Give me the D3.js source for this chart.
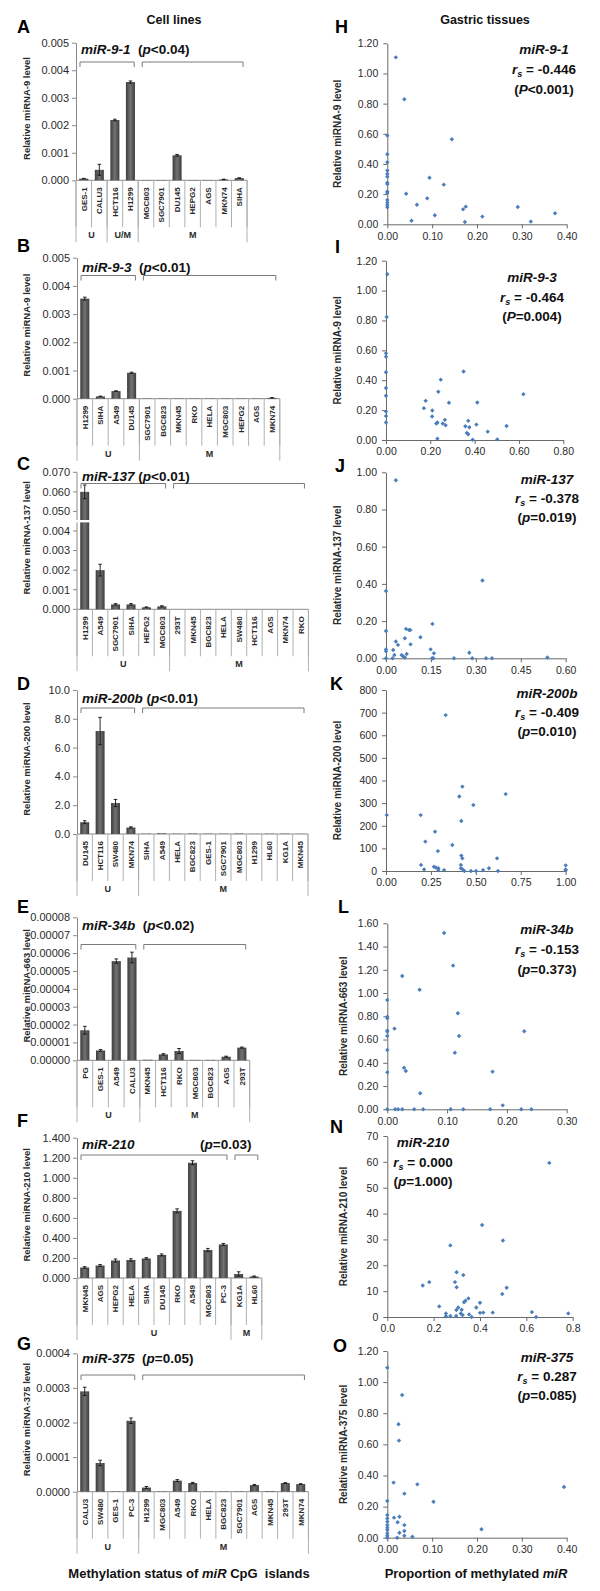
<!DOCTYPE html>
<html><head><meta charset="utf-8">
<script src="https://cdn.jsdelivr.net/npm/d3@7"></script>
<style>body{margin:0;background:#fff}svg{display:block}text{font-family:Arial,"Liberation Sans",sans-serif}</style>
</head><body><svg id="c" width="600" height="1591"></svg>
<script>
// ---------------- DATA: cell lines (bar panels) ----------------
const catsA = ["GES-1","CALU3","HCT116","H1299","MGC803","SGC7901","DU145","HEPG2","AGS","MKN74","SIHA"];
const valsA = [0.00006,0.00038,0.00219,0.00357,0.00001,0.00001,0.00091,0.00001,0.00001,0.00003,0.00008];
const errsA = [0.00001,0.0002,0.00003,0.00004,0,0,0.00003,0,0,0.00001,0.00001];
const groupsA = [["U",2],["U/M",2],["M",7]];
const bracketsA = [[0,3],[4,10]];
const ticksA = [0,0.001,0.002,0.003,0.004,0.005];
const titleA = [["miR-9-1",1],["  (",0],["p",1],["<0.04)",0]];

const catsB = ["H1299","SIHA","A549","DU145","SGC7901","BGC823","MKN45","RKO","HELA","MGC803","HEPG2","AGS","MKN74"];
const valsB = [0.00355,0.00008,0.00027,0.00092,0.00001,0.00001,0.00001,0.00001,0.00001,0.00001,0.00001,0.00001,0.00003];
const errsB = [0.00005,0.00001,0.00001,0.00002,0,0,0,0,0,0,0,0,0.000005];
const groupsB = [["U",4],["M",9]];
const bracketsB = [[0,3],[4,12]];
const ticksB = [0,0.001,0.002,0.003,0.004,0.005];
const titleB = [["miR-9-3",1],["  (",0],["p",1],["<0.01)",0]];

const catsC = ["H1299","A549","SGC7901","SIHA","HEPG2","MGC803","293T","MKN45","BGC823","HELA","SW480","HCT116","AGS","MKN74","RKO"];
const valsC = [0.060,0.0020,0.00025,0.00025,0.0001,0.00015,0,0,0,0,0,0,0,0,0];
const errsC = [0.0035,0.0003,0.00004,0.00004,0.00002,0.00003,0,0,0,0,0,0,0,0,0];
const groupsC = [["U",6],["M",9]];
const bracketsC = [[0,5],[6,14]];
const ticksC = [0,0.001,0.002,0.003,0.004,0.050,0.060,0.070];
const titleC = [["miR-137",1],[" (",0],["p",1],["<0.01)",0]];

const catsD = ["DU145","HCT116","SW480","MKN74","SIHA","A549","HELA","BGC823","GES-1","SGC7901","MGC803","H1299","HL60","KG1A","MKN45"];
const valsD = [0.82,7.15,2.15,0.45,0.02,0.05,0.02,0.03,0.02,0.02,0.03,0.01,0.02,0.02,0.01];
const errsD = [0.1,0.95,0.25,0.05,0,0,0,0,0,0,0,0,0,0,0];
const groupsD = [["U",4],["M",11]];
const bracketsD = [[0,3],[4,14]];
const ticksD = [0,2,4,6,8,10];
const titleD = [["miR-200b",1],[" (",0],["p",1],["<0.01)",0]];

const catsE = ["PG","GES-1","A549","CALU3","MKN45","HCT116","RKO","MGC803","BGC823","AGS","293T"];
const valsE = [0.0000168,0.0000055,0.0000555,0.0000575,0.0000003,0.0000033,0.0000052,0.0000002,0.0000002,0.000002,0.0000071];
const errsE = [0.0000022,0.0000005,0.0000012,0.000003,0,0.0000004,0.0000014,0,0,0.0000003,0.0000003];
const groupsE = [["U",4],["M",7]];
const bracketsE = [[0,3],[4,10]];
const ticksE = [0,0.00001,0.00002,0.00003,0.00004,0.00005,0.00006,0.00007,0.00008];
const titleE = [["miR-34b",1],["  (",0],["p",1],["<0.02)",0]];

const catsF = ["MKN45","AGS","HEPG2","HELA","SIHA","DU145","RKO","A549","MGC803","PC-3","KG1A","HL60"];
const valsF = [0.105,0.125,0.175,0.18,0.195,0.23,0.67,1.15,0.28,0.335,0.04,0.015];
const errsF = [0.008,0.01,0.015,0.012,0.008,0.01,0.02,0.02,0.015,0.01,0.022,0.005];
const groupsF = [["U",10],["M",2]];
const bracketsF = [[0,9],[10,11]];
const ticksF = [0,0.2,0.4,0.6,0.8,1.0,1.2,1.4];
const titleF = [["miR-210",1]];
const titleF2 = [["(",0],["p",1],["=0.03)",0]];

const catsG = ["CALU3","SW480","GES-1","PC-3","H1299","MGC803","A549","RKO","HELA","BGC823","SGC7901","AGS","MKN45","293T","MKN74"];
const valsG = [0.00029,0.000083,0.000001,0.000205,0.000012,0.000001,0.000032,0.000025,0.000001,0.000001,0.000001,0.000019,0.000002,0.000025,0.000022];
const errsG = [0.000012,0.000008,0,0.000008,0.000003,0,0.000003,0.000002,0,0,0,0.000002,0,0.000001,0.000001];
const groupsG = [["U",4],["M",11]];
const bracketsG = [[0,3],[4,14]];
const ticksG = [0,0.0001,0.0002,0.0003,0.0004];
const titleG = [["miR-375",1],["  (",0],["p",1],["=0.05)",0]];

// ---------------- DATA: gastric tissues (scatter panels) ----------------
const xH = [0.019,0.038,0,0,0,0,0,0,0,0,0,0,0,0,0,0,0.144,0.094,0.126,0.042,0.089,0.066,0.054,0.106,0.169,0.175,0.173,0.212,0.291,0.320,0.374];
const yH = [1.107,0.829,0.588,0.464,0.411,0.356,0.334,0.316,0.276,0.267,0.217,0.208,0.161,0.144,0.128,0.113,0.564,0.309,0.263,0.203,0.172,0.130,0.024,0.060,0.099,0.117,0.015,0.051,0.115,0.018,0.073];
const xI = [0.006,0.003,0,0,0,0,0,0,0,0,0.350,0.247,0.179,0.171,0.209,0.208,0.236,0.284,0.227,0.232,0.256,0.266,0.269,0.412,0.371,0.358,0.376,0.408,0.365,0.371,0.459,0.544,0.620,0.232,0.391,0.502];
const yI = [1.11,0.823,0.58,0.558,0.453,0.348,0.296,0.19,0.16,0.117,0.458,0.404,0.262,0.213,0.197,0.157,0.323,0.249,0.11,0.117,0.11,0.135,0.099,0.251,0.128,0.092,0.085,0.103,0.047,0.038,0.056,0.094,0.307,0.009,0.002,0.004];
const xJ = [0.033,0,0.322,0,0.155,0.067,0.077,0.081,0.115,0.063,0.033,0.040,0.082,0,0,0.024,0.149,0.160,0.278,0.028,0.052,0.058,0.069,0.063,0,0.154,0.158,0.227,0.288,0.334,0.354,0.539,0.022];
const yJ = [0.957,0.362,0.418,0.147,0.185,0.158,0.152,0.152,0.113,0.108,0.09,0.072,0.075,0.048,0.038,0.045,0.048,0.027,0.030,0.018,0.018,0.009,0.023,0.004,0,0,0,0,0,0,0,0.004,0];
const xK = [0.332,0.425,0.408,0.666,0.486,0.419,0.004,0.193,0.273,0.219,0.369,0.289,0.419,0.425,0.618,0.195,0.212,0.267,0.278,0.291,0.323,0.417,0.417,0.427,0.436,0.473,0.501,0.540,0.573,0.623,1,1,1,0.291];
const yK = [689,373,329,340,292,221,247,247,174,130,115,88,68,56,56,27,7,19,15,12,4,27,12,7,0,0,0,4,12,0,25,7,3,4];
const xL = [0.095,0.110,0.025,0.054,0,0,0,0.118,0.012,0,0,0,0.120,0.229,0,0.113,0,0.028,0.031,0.176,0.055,0.193,0,0.013,0.018,0.025,0.045,0.060,0.106,0.127,0.172,0.224,0.241];
const yL = [1.517,1.236,1.147,1.029,0.940,0.797,0.783,0.826,0.694,0.677,0.668,0.631,0.631,0.671,0.510,0.487,0.318,0.358,0.330,0.324,0.138,0.034,0,0,0,0,0,0,0,0,0,0,0];
const xN = [0.699,0.153,0.181,0.272,0.299,0.292,0.299,0.328,0.409,0.499,0.515,0.496,0.224,0.350,0.337,0.331,0.400,0.384,0.298,0.321,0.306,0.253,0.253,0.272,0.297,0.317,0.325,0.353,0.364,0.400,0.414,0.455,0.624,0.642,0.781];
const yN = [59.6,12.2,13.5,27.7,17.3,13.5,11.5,16.2,35.6,29.6,11.3,8.9,4.1,7.2,6.3,5.7,5.5,3.7,2.7,2.8,3.7,1.4,0.3,0.4,0.4,1.4,0.8,1.0,0,1.6,1.7,1.7,1.9,0,1.4];
const xO = [0,0.033,0.025,0.026,0.014,0.067,0.038,0.103,0.394,0,0,0,0,0,0,0,0,0,0,0.015,0.027,0.023,0.038,0.027,0.038,0.038,0.056,0.022,0.210];
const yO = [1.093,0.917,0.729,0.624,0.354,0.343,0.283,0.231,0.326,0.236,0.146,0.124,0.103,0.081,0.064,0.049,0.028,0.013,0,0.129,0.135,0.099,0.081,0.032,0.043,0.013,0.006,0,0.054];

// ---------------- DRAWING ----------------
const svg = d3.select("#c");
svg.append("rect").attr("width",600).attr("height",1591).attr("fill","#fff");
const defs = svg.append("defs");
const gr = defs.append("linearGradient").attr("id","barg").attr("x1",0).attr("x2",1).attr("y1",0).attr("y2",0);
gr.append("stop").attr("offset",0).attr("stop-color","#3c3c3c");
gr.append("stop").attr("offset",0.5).attr("stop-color","#737373");
gr.append("stop").attr("offset",1).attr("stop-color","#3c3c3c");

const AX = "#8a8a8a", TXT = "#2a2a2a";

function rich(sel, parts){
  parts.forEach(([t,it]) => sel.append("tspan").attr("font-style", it ? "italic" : "normal").text(t));
}

function drawBar(p){
  const n = p.cats.length;
  const xEnd = p.x0 + n*p.step;
  const x = d3.scaleBand().domain(d3.range(n)).range([p.x0, xEnd]).paddingInner(0.42).paddingOuter(0.21);
  let yf;
  const g = svg.append("g");
  if (p.broken){
    const lo = d3.scaleLinear().domain([0,0.0045]).range([p.yBot, p.yBreak]);
    const hi = d3.scaleLinear().domain([0.045,0.07]).range([p.yBreak, p.yTop]);
    yf = v => v <= 0.0045 ? lo(v) : hi(v);
    g.append("line").attr("x1",p.x0).attr("x2",p.x0).attr("y1",p.yBot).attr("y2",p.yTop).attr("stroke",AX);
    p.ticks.forEach(t => {
      g.append("line").attr("x1",p.x0-4).attr("x2",p.x0).attr("y1",yf(t)).attr("y2",yf(t)).attr("stroke",AX);
      g.append("text").attr("x",p.x0-7).attr("y",yf(t)).attr("dy","0.35em").attr("text-anchor","end")
        .attr("font-size","11px").attr("fill",TXT).text(d3.format(p.fmt)(t));
    });
  } else {
    const y = d3.scaleLinear().domain([p.ticks[0], p.ticks[p.ticks.length-1]]).range([p.yBot, p.yTop]);
    yf = y;
    const ax = g.append("g").attr("transform",`translate(${p.x0},0)`)
      .call(d3.axisLeft(y).tickValues(p.ticks).tickFormat(d3.format(p.fmt)).tickSize(4).tickSizeOuter(0).tickPadding(3));
    ax.selectAll("path,line").attr("stroke",AX);
    ax.selectAll("text").attr("font-size","11px").attr("fill",TXT).attr("font-family","Arial, 'Liberation Sans', sans-serif");
  }
  g.append("line").attr("x1",p.x0).attr("x2",xEnd).attr("y1",p.yBot).attr("y2",p.yBot).attr("stroke",AX);
  g.selectAll("rect.bar").data(p.vals).enter().append("rect")
    .attr("x",(d,i)=>x(i)).attr("width",x.bandwidth())
    .attr("y",d=>yf(d)).attr("height",d=>p.yBot-yf(d)).attr("fill","url(#barg)");
  p.vals.forEach((v,i) => {
    const e = p.errs[i]; if (!e) return;
    const cx = x(i)+x.bandwidth()/2;
    const y1 = yf(Math.max(0,v-e)), y2 = yf(v+e);
    g.append("line").attr("x1",cx).attr("x2",cx).attr("y1",y1).attr("y2",y2).attr("stroke","#111").attr("stroke-width",0.9);
    [y1,y2].forEach(yy => g.append("line").attr("x1",cx-1.8).attr("x2",cx+1.8).attr("y1",yy).attr("y2",yy).attr("stroke","#111").attr("stroke-width",0.9));
  });
  if (p.broken){
    g.append("rect").attr("x",p.x0-6).attr("y",p.yBreak-1.2).attr("width",x(0)+x.bandwidth()-p.x0+9).attr("height",2.4).attr("fill","#fff");
  }
  for (let i=0;i<=n;i++){
    g.append("line").attr("x1",p.x0+i*p.step).attr("x2",p.x0+i*p.step).attr("y1",p.yBot).attr("y2",p.yBot+47).attr("stroke","#a8a8a8").attr("stroke-width",0.9);
  }
  p.cats.forEach((c,i) => {
    const cx = p.x0+(i+0.5)*p.step;
    g.append("text").attr("transform",`translate(${cx},${p.yBot+7}) rotate(-90)`)
      .attr("text-anchor","end").attr("dy","0.35em").attr("font-size","8px").attr("font-weight","bold").attr("fill",TXT).text(c);
  });
  let s = 0;
  const bounds = [0];
  p.groups.forEach(([lab,k]) => {
    const cx = p.x0+(s+k/2)*p.step;
    g.append("text").attr("x",cx).attr("y",p.yBot+58).attr("text-anchor","middle").attr("font-size","9px").attr("font-weight","bold").attr("fill",TXT).text(lab);
    s += k; bounds.push(s);
  });
  bounds.forEach(b => g.append("line").attr("x1",p.x0+b*p.step).attr("x2",p.x0+b*p.step).attr("y1",p.yBot).attr("y2",p.yBot+62).attr("stroke","#a8a8a8").attr("stroke-width",0.9));
  p.brackets.forEach(([a,b]) => {
    const bx0 = p.x0+a*p.step+4, bx1 = p.x0+(b+1)*p.step-4;
    g.append("path").attr("d",`M${bx0},${p.bY+5}V${p.bY}H${bx1}V${p.bY+5}`).attr("fill","none").attr("stroke","#7a7a7a").attr("stroke-width",1);
  });
  const t = g.append("text").attr("x",p.x0+5).attr("y",p.tY).attr("font-size","13.5px").attr("font-weight","bold").attr("fill","#111").style("white-space","pre");
  rich(t, p.title);
  if (p.title2){
    const t2 = g.append("text").attr("x",p.t2x).attr("y",p.tY).attr("font-size","13.5px").attr("font-weight","bold").attr("fill","#111");
    rich(t2, p.title2);
  }
  g.append("text").attr("transform",`translate(27,${(p.yTop+p.yBot)/2-3}) rotate(-90)`).attr("text-anchor","middle").attr("dy","0.35em")
    .attr("font-size","9.5px").attr("font-weight","bold").attr("fill",TXT).text(p.yTitle);
  g.append("text").attr("x",17).attr("y",p.lY).attr("font-size","18px").attr("font-weight","bold").attr("fill","#000").text(p.letter);
}

function drawScatter(p){
  const x = d3.scaleLinear().domain([p.xTicks[0], p.xTicks[p.xTicks.length-1]]).range([p.x0,p.x1]);
  const y = d3.scaleLinear().domain([p.yTicks[0], p.yTicks[p.yTicks.length-1]]).range([p.yBot,p.yTop]);
  const g = svg.append("g");
  const ax = g.append("g").attr("transform",`translate(0,${p.yBot})`)
    .call(d3.axisBottom(x).tickValues(p.xTicks).tickFormat(d3.format(p.fx)).tickSize(4).tickSizeOuter(0).tickPadding(4));
  const ay = g.append("g").attr("transform",`translate(${p.x0},0)`)
    .call(d3.axisLeft(y).tickValues(p.yTicks).tickFormat(d3.format(p.fy)).tickSize(4).tickSizeOuter(0).tickPadding(5));
  [ax,ay].forEach(a => {
    a.selectAll("path,line").attr("stroke","#6a6a6a");
    a.selectAll("text").attr("font-size","10.5px").attr("fill",TXT).attr("font-family","Arial, 'Liberation Sans', sans-serif");
  });
  g.selectAll("path.pt").data(p.xs).enter().append("path")
    .attr("transform",(d,i)=>`translate(${x(d)},${y(p.ys[i])})`).attr("d","M0,-2.2L2.2,0L0,2.2L-2.2,0Z").attr("fill","#4a7dbb");
  g.append("text").attr("transform",`translate(${p.yTx},${(p.yTop+p.yBot)/2}) rotate(-90)`).attr("text-anchor","middle").attr("dy","0.35em")
    .attr("font-size","10px").attr("font-weight","bold").attr("fill",TXT).text(p.yTitle);
  g.append("text").attr("x",p.lX).attr("y",p.lY).attr("font-size","18px").attr("font-weight","bold").attr("fill","#000").text(p.letter);
  const fs = "13.5px";
  const l1 = g.append("text").attr("x",p.ax).attr("y",p.ay[0]).attr("text-anchor","middle").attr("font-size",fs).attr("font-weight","bold").attr("fill","#111");
  rich(l1,[[p.name,1]]);
  const l2 = g.append("text").attr("x",p.ax).attr("y",p.ay[1]).attr("text-anchor","middle").attr("font-size",fs).attr("font-weight","bold").attr("fill","#111");
  l2.append("tspan").attr("font-style","italic").text("r");
  l2.append("tspan").attr("font-style","italic").attr("font-size","9px").attr("dy",3).text("s");
  l2.append("tspan").attr("dy",-3).text(" = " + p.rs);
  const l3 = g.append("text").attr("x",p.ax).attr("y",p.ay[2]).attr("text-anchor","middle").attr("font-size",fs).attr("font-weight","bold").attr("fill","#111");
  rich(l3,[["(",0],[p.pl,1],[p.pv+")",0]]);
}

svg.append("text").attr("x",174).attr("y",24).attr("text-anchor","middle").attr("font-size","12.5px").attr("font-weight","bold").attr("fill","#111").text("Cell lines");
svg.append("text").attr("x",485).attr("y",24).attr("text-anchor","middle").attr("font-size","12.5px").attr("font-weight","bold").attr("fill","#111").text("Gastric tissues");

drawBar({letter:"A",cats:catsA,vals:valsA,errs:errsA,groups:groupsA,brackets:bracketsA,ticks:ticksA,fmt:".3f",title:titleA,
  yTitle:"Relative miRNA-9 level",x0:76,step:15.55,yTop:42.7,yBot:180.3,tY:53.5,bY:62,lY:33});
drawBar({letter:"B",cats:catsB,vals:valsB,errs:errsB,groups:groupsB,brackets:bracketsB,ticks:ticksB,fmt:".3f",title:titleB,
  yTitle:"Relative miRNA-9 level",x0:77,step:15.6,yTop:257.7,yBot:398.7,tY:271.5,bY:275.5,lY:252});
drawBar({letter:"C",cats:catsC,vals:valsC,errs:errsC,groups:groupsC,brackets:bracketsC,ticks:ticksC,fmt:".3f",title:titleC,broken:true,yBreak:521.2,
  yTitle:"Relative miRNA-137 level",x0:77,step:15.43,yTop:472.3,yBot:609.3,tY:480.5,bY:483.5,lY:470});
drawBar({letter:"D",cats:catsD,vals:valsD,errs:errsD,groups:groupsD,brackets:bracketsD,ticks:ticksD,fmt:".1f",title:titleD,
  yTitle:"Relative miRNA-200 level",x0:77,step:15.4,yTop:690,yBot:834,tY:703,bY:708,lY:690});
drawBar({letter:"E",cats:catsE,vals:valsE,errs:errsE,groups:groupsE,brackets:bracketsE,ticks:ticksE,fmt:".5f",title:titleE,
  yTitle:"Relative miRNA-663 level",x0:77,step:15.7,yTop:917.3,yBot:1060.3,tY:930,bY:944.5,lY:913});
drawBar({letter:"F",cats:catsF,vals:valsF,errs:errsF,groups:groupsF,brackets:bracketsF,ticks:ticksF,fmt:".3f",title:titleF,title2:titleF2,t2x:200,
  yTitle:"Relative miRNA-210 level",x0:77,step:15.4,yTop:1137.7,yBot:1278,tY:1149,bY:1155,lY:1127});
drawBar({letter:"G",cats:catsG,vals:valsG,errs:errsG,groups:groupsG,brackets:bracketsG,ticks:ticksG,fmt:".4f",title:titleG,
  yTitle:"Relative miRNA-375 level",x0:77,step:15.43,yTop:1353.3,yBot:1491.7,tY:1363,bY:1375,lY:1350});

drawScatter({letter:"H",lX:335,lY:33,xs:xH,ys:yH,xTicks:[0,0.1,0.2,0.3,0.4],fx:".2f",yTicks:[0,0.2,0.4,0.6,0.8,1.0,1.2],fy:".2f",
  x0:387.3,x1:566.7,yTop:43.3,yBot:224.3,yTx:337,yTitle:"Relative miRNA-9 level",name:"miR-9-1",rs:"-0.446",pl:"P",pv:"<0.001",ax:544,ay:[54,74,93.5]});
drawScatter({letter:"I",lX:335,lY:253,xs:xI,ys:yI,xTicks:[0,0.2,0.4,0.6,0.8],fx:".2f",yTicks:[0,0.2,0.4,0.6,0.8,1.0,1.2],fy:".2f",
  x0:386,x1:563.3,yTop:260.7,yBot:440,yTx:337,yTitle:"Relative miRNA-9 level",name:"miR-9-3",rs:"-0.464",pl:"P",pv:"=0.004",ax:532,ay:[282,302,321]});
drawScatter({letter:"J",lX:335,lY:472,xs:xJ,ys:yJ,xTicks:[0,0.15,0.3,0.45,0.6],fx:".2f",yTicks:[0,0.2,0.4,0.6,0.8,1.0],fy:".2f",
  x0:386,x1:565.7,yTop:472.3,yBot:658.3,yTx:337,yTitle:"Relative miRNA-137 level",name:"miR-137",rs:"-0.378",pl:"p",pv:"=0.019",ax:547,ay:[483.5,502.5,522]});
drawScatter({letter:"K",lX:330,lY:690,xs:xK,ys:yK,xTicks:[0,0.25,0.5,0.75,1.0],fx:".2f",yTicks:[0,100,200,300,400,500,600,700,800],fy:"d",
  x0:386,x1:565.7,yTop:690,yBot:871,yTx:337,yTitle:"Relative miRNA-200 level",name:"miR-200b",rs:"-0.409",pl:"p",pv:"=0.010",ax:547,ay:[697.5,716.5,736]});
drawScatter({letter:"L",lX:338,lY:913,xs:xL,ys:yL,xTicks:[0,0.1,0.2,0.3],fx:".2f",yTicks:[0,0.2,0.4,0.6,0.8,1.0,1.2,1.4,1.6],fy:".2f",
  x0:387.3,x1:566.7,yTop:923.3,yBot:1109.3,yTx:343,yTitle:"Relative miRNA-663 level",name:"miR-34b",rs:"-0.153",pl:"p",pv:"=0.373",ax:547,ay:[934,953.5,973.5]});
drawScatter({letter:"N",lX:330,lY:1133,xs:xN,ys:yN,xTicks:[0,0.2,0.4,0.6,0.8],fx:".1f",yTicks:[0,10,20,30,40,50,60,70],fy:"d",
  x0:387.3,x1:572.7,yTop:1136,yBot:1317,yTx:343,yTitle:"Relative miRNA-210 level",name:"miR-210",rs:"0.000",pl:"p",pv:"=1.000",ax:423,ay:[1147,1167,1186]});
drawScatter({letter:"O",lX:333,lY:1352,xs:xO,ys:yO,xTicks:[0,0.1,0.2,0.3,0.4],fx:".2f",yTicks:[0,0.2,0.4,0.6,0.8,1.0,1.2],fy:".2f",
  x0:387.3,x1:566.7,yTop:1351,yBot:1537.7,yTx:343,yTitle:"Relative miRNA-375 level",name:"miR-375",rs:"0.287",pl:"p",pv:"=0.085",ax:547,ay:[1362,1381,1400]});

const b1 = svg.append("text").attr("x",189).attr("y",1578).attr("text-anchor","middle").attr("font-size","13px").attr("font-weight","bold").attr("fill","#111").style("white-space","pre");
rich(b1,[["Methylation status of ",0],["miR",1],[" CpG  islands",0]]);
const b2 = svg.append("text").attr("x",476).attr("y",1578).attr("text-anchor","middle").attr("font-size","13px").attr("font-weight","bold").attr("fill","#111");
rich(b2,[["Proportion of methylated ",0],["miR",1]]);
</script></body></html>
